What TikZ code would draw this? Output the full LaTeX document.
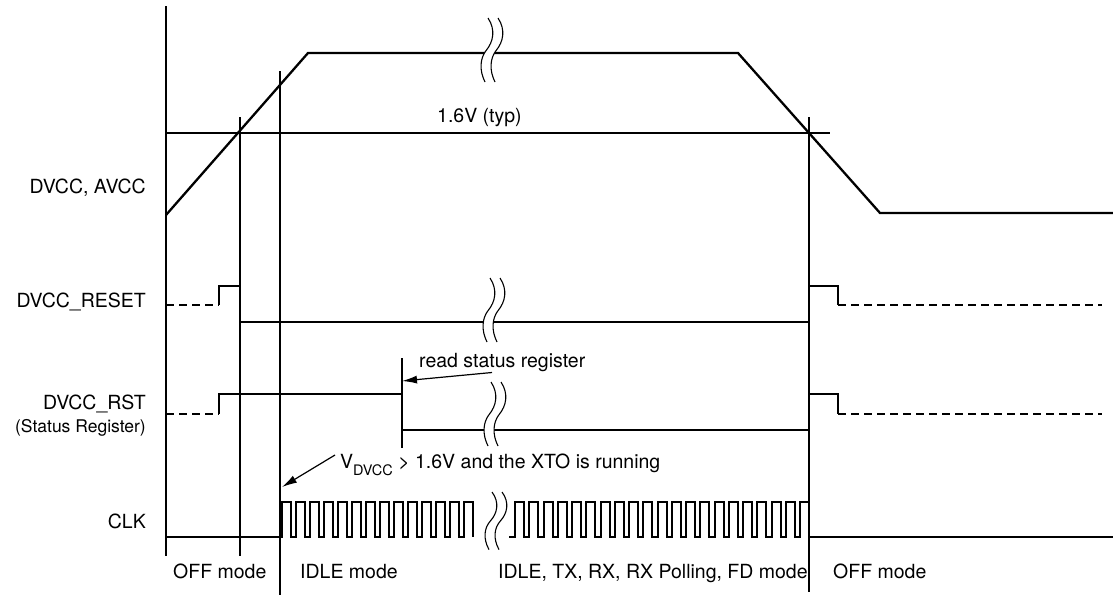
\documentclass[tikz,border=0pt]{standalone}
\usepackage{fontspec}
\setmainfont{TeX Gyre Heros}
\usetikzlibrary{arrows.meta}
\tikzset{
  sig/.style={line width=2.3pt, line join=miter},
  thinln/.style={line width=1.2pt},
  dsh/.style={line width=2pt, dash pattern=on 8pt off 5pt},
  brkline/.style={line width=1.1pt},
  lbl/.style={inner sep=0pt, font=\fontsize{19.5}{22}\selectfont},
  small/.style={inner sep=0pt, font=\fontsize{17.5}{20}\selectfont},
  arr/.style={line width=1.2pt, -{Latex[length=15pt,width=8pt]}},
  brk/.pic={
    \fill[white] (0,0) .. controls (8,12) and (5,24) .. (-1.5,32) .. controls (-8,40) and (-9,52) .. (-3,64)
      -- (7,64) .. controls (1,52) and (2,40) .. (8.5,32) .. controls (15,24) and (18,12) .. (10,0) -- cycle;
    \draw[brkline] (0,0) .. controls (8,12) and (5,24) .. (-1.5,32) .. controls (-8,40) and (-9,52) .. (-3,64);
    \draw[brkline] (10,0) .. controls (18,12) and (15,24) .. (8.5,32) .. controls (2,40) and (1,52) .. (7,64);
  }
}
\begin{document}
\begin{tikzpicture}[x=1pt,y=-1pt]
\useasboundingbox (0,0) rectangle (1113,597);

% vertical reference lines
\draw[thinln] (166,6) -- (166,556);
\draw[thinln] (240,117) -- (240,556);
\draw[thinln] (280,71) -- (280,595);
\draw[thinln] (809,117) -- (809,592);
% threshold
\draw[thinln] (166,133) -- (830,133);
\node[lbl, anchor=base west] (typ) at (437,122) {1.6V (typ)};

% DVCC, AVCC
\draw[sig] (166,215) -- (308,53) -- (738,53) -- (880,213) -- (1113,213);

% DVCC_RESET
\draw[dsh] (166,305) -- (219,305);
\draw[sig] (219,305) -- (219,286) -- (240,286) -- (240,322) -- (809,322) -- (809,286) -- (838,286) -- (838,305);
\draw[dsh] (838,305) -- (1102,305);

% DVCC_RST
\draw[dsh] (166,414) -- (219,414);
\draw[sig] (219,414) -- (219,394) -- (402,394) -- (402,430) -- (809,430) -- (809,394) -- (838,394) -- (838,414);
\draw[dsh] (838,414) -- (1102,414);
\draw[thinln] (402,358) -- (402,448);

% CLK
\draw[line width=2pt] (166,537) \foreach \k in {0,...,13} { -- ({282+14*\k},537) -- ({282+14*\k},502) -- ({291+14*\k},502) -- ({291+14*\k},537) };
\draw[line width=2pt] (509,537) \foreach \k in {0,...,20} { -- ({515+14.25*\k},537) -- ({515+14.25*\k},502) -- ({524+14.25*\k},502) -- ({524+14.25*\k},537) } -- (1113,537);

% breaks
\pic at (488,18) {brk};
\pic at (490,278) {brk};
\pic at (491,382) {brk};
\pic[yscale=0.9] at (492,492) {brk};

% signal names
\node[lbl, anchor=base east] (n1) at (146,193) {DVCC, AVCC};
\node[lbl, anchor=base east] (n2) at (146,307) {DVCC\_RESET};
\node[lbl, anchor=base east] (n3) at (146,409) {DVCC\_RST};
\node[small, anchor=base east] (n3b) at (146,432) {(Status Register)};
\node[lbl, anchor=base east] (n4) at (146,528) {CLK};

% annotations
\node[lbl, anchor=base west] (rsr) at (419,367) {read status register};
\coordinate (rsrs) at (492,372.5);
\coordinate (rsrt) at (402,381);
\draw[arr] (rsrs) -- (rsrt);

\node[lbl, anchor=base west] (xto) at (340,468) {V\raisebox{-7pt}{\fontsize{14.5}{15}\selectfont DVCC} > 1.6V and the XTO is running};
\coordinate (xtos) at (335,455);
\coordinate (xtot) at (282,487);
\draw[arr] (xtos) -- (xtot);

% modes
\node[lbl, anchor=base west] (m1) at (173,578) {OFF mode};
\node[lbl, anchor=base west] (m2) at (300,578) {IDLE mode};
\node[lbl, anchor=base west] (m3) at (498,578) {IDLE, TX, RX, RX Polling, FD mode};
\node[lbl, anchor=base west] (m4) at (833,578) {OFF mode};
\end{tikzpicture}
\end{document}
